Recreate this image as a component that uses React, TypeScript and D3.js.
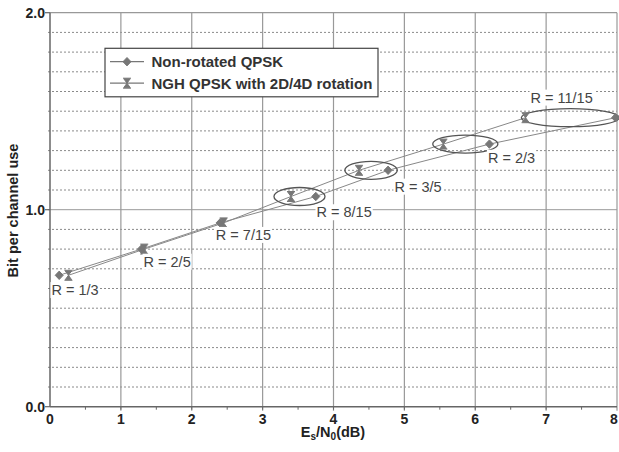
import React from "react";
import * as d3 from "d3";

// code rates and their spectral efficiency (bit per channel use)
const rates = ["1/3", "2/5", "7/15", "8/15", "3/5", "2/3", "11/15"];
const bitsPerUse = [0.667, 0.8, 0.933, 1.067, 1.2, 1.333, 1.467];
// required Es/N0 (dB)
const snrNonRotated = [0.13, 1.29, 2.4, 3.75, 4.77, 6.2, 7.98];
const snrRotated = [0.26, 1.33, 2.45, 3.4, 4.36, 5.55, 6.71];

const seriesNames = ["Non-rotated QPSK", "NGH QPSK with 2D/4D rotation"];

const xTicks = [0, 1, 2, 3, 4, 5, 6, 7, 8];
const yTickLabels = ["0.0", "1.0", "2.0"];

// where each "R = .." label sits, in data units
const labelSnr = [0.02, 1.32, 2.34, 3.76, 4.86, 6.18, 6.78];
const labelBits = [0.592, 0.736, 0.872, 0.987, 1.117, 1.264, 1.569];

// rates that are circled, with the Es/N0 span of the ellipse
const circledRates = ["8/15", "3/5", "2/3", "11/15"];
const ellipseFrom = [3.16, 4.16, 5.4, 6.65];
const ellipseTo = [3.88, 4.9, 6.32, 8.03];

const W = 619, H = 452;
const left = 50, right = 617, top = 12.7, bottom = 406.7;

const x = d3.scaleLinear().domain([0, 8]).range([left, right]);
const y = d3.scaleLinear().domain([0, 2]).range([bottom, top]);

const font = "'Liberation Sans', Arial, sans-serif";
const markGray = "#777";

const diamond = "M0,-4.2L4,0L0,4.2L-4,0Z";
const hourglass = "M-4,-5H4M-3.2,-4.4L3.2,-4.4L0,0ZM0,0L-3.2,4.4L3.2,4.4ZM-4,5H4";

function Marker({ kind, cx, cy }: { kind: number; cx: number; cy: number }) {
  return (
    <path
      d={kind === 0 ? diamond : hourglass}
      transform={`translate(${cx},${cy})`}
      fill={markGray}
      stroke={markGray}
      strokeWidth={1}
    />
  );
}

export default function App() {
  const minorY = d3.range(1, 20).map((i) => i / 10);
  const halfX = d3.range(1, 16).map((i) => i / 2);
  const line = d3
    .line<number>()
    .x((d) => d[0])
    .y((d) => d[1]);

  const series = [snrNonRotated, snrRotated];

  return (
    <svg
      width={W}
      height={H}
      style={{ position: "absolute", left: 0, top: 0, background: "#fff" }}
      fontFamily={font}
    >
      {/* horizontal grid */}
      {minorY.map((v) => (
        <line
          key={"h" + v}
          x1={left - 2}
          x2={right}
          y1={y(v)}
          y2={y(v)}
          stroke={Math.abs(v - 1) < 1e-9 ? "#999" : "#8a8a8a"}
          strokeWidth={1}
          strokeDasharray={Math.abs(v - 1) < 1e-9 ? undefined : "2,2"}
        />
      ))}
      {/* vertical grid */}
      {xTicks.slice(1).map((v) => (
        <line key={"v" + v} x1={x(v)} x2={x(v)} y1={top} y2={bottom + 4} stroke="#999" strokeWidth={1.2} />
      ))}
      <line x1={left} x2={right} y1={top} y2={top} stroke="#999" strokeWidth={1.2} />
      {halfX.map((v) => (
        <line key={"t" + v} x1={x(v)} x2={x(v)} y1={bottom} y2={bottom + 3} stroke="#666" />
      ))}
      {[0, 1, 2].map((v) => (
        <line key={"yt" + v} x1={left - 5} x2={left} y1={y(v)} y2={y(v)} stroke="#666" strokeWidth={1.2} />
      ))}
      {/* axes */}
      <line x1={left} x2={left} y1={top} y2={bottom} stroke="#666" strokeWidth={1.5} />
      <line x1={left} x2={right} y1={bottom} y2={bottom} stroke="#666" strokeWidth={1.5} />

      {/* series lines */}
      {series.map((s, si) => (
        <path
          key={"l" + si}
          d={line(s.map((v, i) => [x(v), y(bitsPerUse[i])]) as any) || ""}
          fill="none"
          stroke="#888"
          strokeWidth={1}
        />
      ))}

      {/* ellipses */}
      {circledRates.map((r, i) => {
        const k = rates.indexOf(r);
        const x0 = x(ellipseFrom[i]);
        const x1 = x(ellipseTo[i]);
        return (
          <ellipse
            key={"e" + r}
            cx={(x0 + x1) / 2}
            cy={y(bitsPerUse[k])}
            rx={(x1 - x0) / 2}
            ry={9}
            fill="none"
            stroke="#555"
            strokeWidth={1.3}
          />
        );
      })}

      {/* markers */}
      {series.map((s, si) =>
        s.map((v, i) => <Marker key={`m${si}-${i}`} kind={si} cx={x(v)} cy={y(bitsPerUse[i])} />)
      )}

      {/* rate labels */}
      {rates.map((r, i) => {
        const txt = `R = ${r}`;
        const fs = 14.5;
        const w = d3.sum(txt.split(""), (c) =>
          c === " " || c === "/" ? 0.278 : c === "R" ? 0.722 : c === "=" ? 0.584 : 0.556
        ) * fs;
        const lx = x(labelSnr[i]);
        const ly = y(labelBits[i]);
        return (
          <g key={"r" + r}>
            <rect x={lx - 1} y={ly - 8} width={w + 2} height={16} fill="#fff" />
            <text x={lx} y={ly} dy="0.36em" fontSize={fs} fill="#444">
              {txt}
            </text>
          </g>
        );
      })}

      {/* legend */}
      <g>
        <rect x={105} y={48.3} width={273} height={48.5} fill="#fff" stroke="#444" strokeWidth={1.2} />
        {seriesNames.map((n, i) => {
          const ly = 61.7 + i * 21.5;
          return (
            <g key={"lg" + i}>
              <line x1={110} x2={144} y1={ly} y2={ly} stroke={markGray} strokeWidth={1.2} />
              <Marker kind={i} cx={127} cy={ly} />
              <text x={151.5} y={ly} dy="0.36em" fontSize={15} fontWeight="bold" fill="#333">
                {n}
              </text>
            </g>
          );
        })}
      </g>

      {/* tick labels */}
      {yTickLabels.map((t, i) => (
        <text
          key={"yl" + t}
          x={45}
          y={y(i)}
          dy="0.36em"
          textAnchor="end"
          fontSize={14}
          fontWeight="bold"
          fill="#222"
        >
          {t}
        </text>
      ))}
      {xTicks.map((v) => (
        <text
          key={"xl" + v}
          x={Math.min(x(v), W - 5)}
          y={424}
          textAnchor="middle"
          fontSize={14}
          fontWeight="bold"
          fill="#222"
        >
          {v}
        </text>
      ))}

      {/* axis titles */}
      <text x={333} y={437} textAnchor="middle" fontSize={14.5} fontWeight="bold" fill="#222">
        E<tspan fontSize={10} dy={3}>s</tspan>
        <tspan dy={-3}>/N</tspan>
        <tspan fontSize={10} dy={3}>0</tspan>
        <tspan dy={-3}>(dB)</tspan>
      </text>
      <text
        transform={`translate(18,${(143 + 278) / 2}) rotate(-90)`}
        textAnchor="middle"
        fontSize={14.5}
        fontWeight="bold"
        fill="#222"
      >
        Bit per channel use
      </text>
    </svg>
  );
}
